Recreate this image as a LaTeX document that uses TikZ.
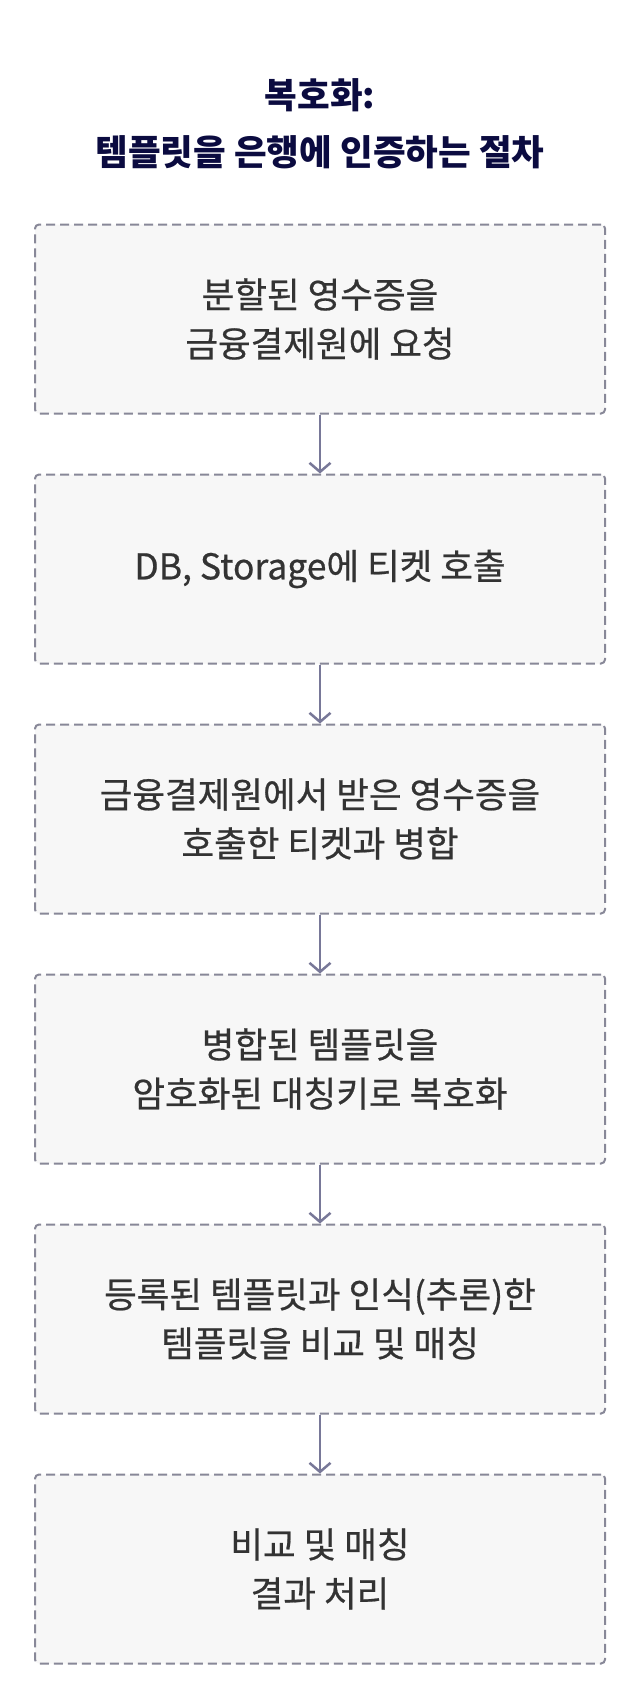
\documentclass[tikz,border=0pt]{standalone}
\usepackage{fontspec}
\setmainfont{Noto Sans CJK KR}
\newfontfamily\boxfont{Noto Sans CJK KR}[FakeBold=0.6]
\usetikzlibrary{arrows.meta}
\definecolor{titlecol}{HTML}{0B0B40}
\definecolor{textcol}{HTML}{333333}
\definecolor{boxfill}{HTML}{F7F7F7}
\definecolor{boxline}{HTML}{888898}
\definecolor{arrowcol}{HTML}{787898}
\tikzset{
  stepbox/.style={draw=boxline, fill=boxfill, line width=2pt, dash pattern=on 9pt off 5pt,
    rounded corners=4pt, minimum width=570pt, minimum height=189pt, inner sep=0pt,
    align=center, text=textcol, font=\boxfont\fontsize{35.5pt}{49pt}\selectfont},
  flow/.style={draw=arrowcol, line width=2.5pt, -{Straight Barb[length=9pt,width=21pt,line width=2.5pt]}},
  titletext/.style={align=center, text=titlecol, font=\bfseries\fontsize{35.5pt}{57pt}\selectfont}
}
\begin{document}
\begin{tikzpicture}[x=1pt,y=1pt]
\useasboundingbox[fill=white] (0,0) rectangle (640,-1700);
\node[titletext] (title) at (320,-124) {복호화:\\템플릿을 은행에 인증하는 절차};
\node[stepbox] (s1) at (320,-319) {분할된 영수증을\\금융결제원에 요청};
\node[stepbox] (s2) at (320,-569) {DB, Storage에 티켓 호출};
\node[stepbox] (s3) at (320,-819) {금융결제원에서 받은 영수증을\\호출한 티켓과 병합};
\node[stepbox] (s4) at (320,-1069) {병합된 템플릿을\\암호화된 대칭키로 복호화};
\node[stepbox] (s5) at (320,-1319) {등록된 템플릿과 인식(추론)한\\템플릿을 비교 및 매칭};
\node[stepbox] (s6) at (320,-1569) {비교 및 매칭\\결과 처리};
\draw[flow] (s1) -- (s2);
\draw[flow] (s2) -- (s3);
\draw[flow] (s3) -- (s4);
\draw[flow] (s4) -- (s5);
\draw[flow] (s5) -- (s6);
\end{tikzpicture}
\end{document}
